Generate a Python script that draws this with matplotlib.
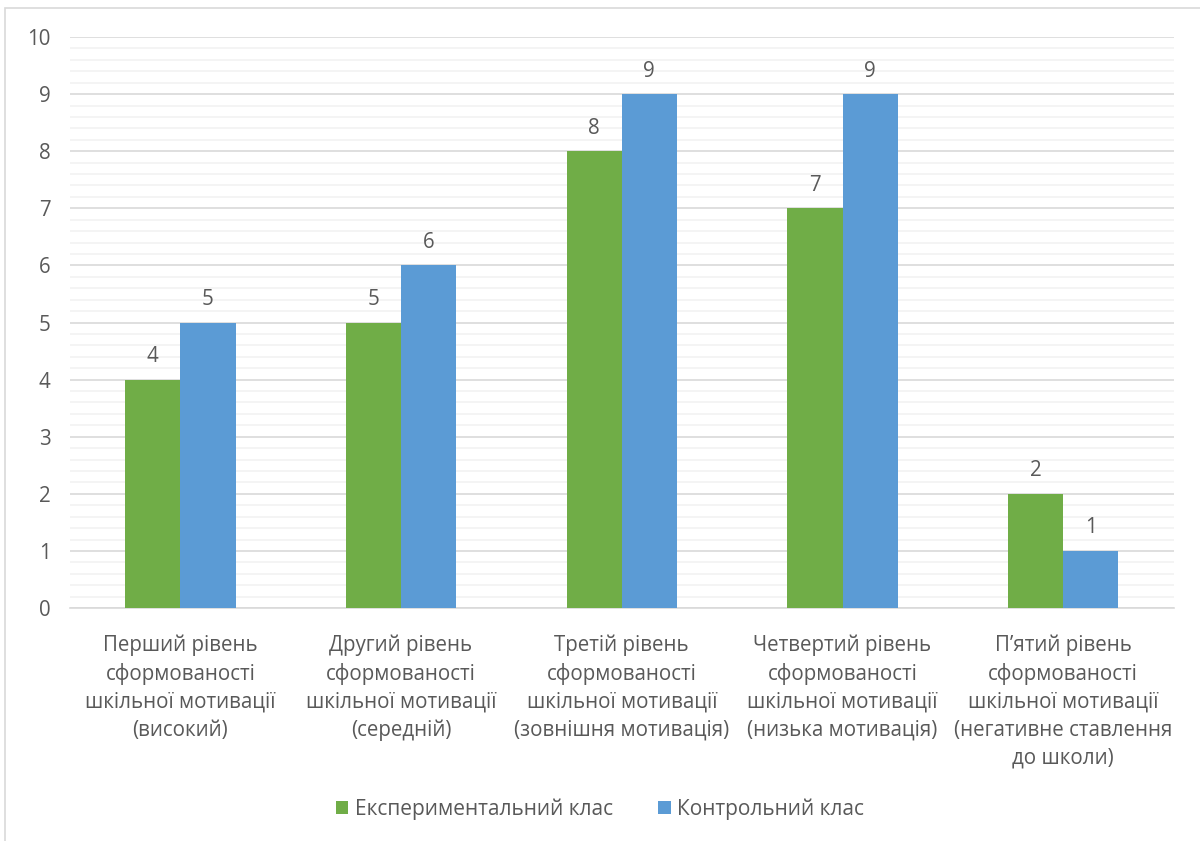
#!/usr/bin/env python3

import matplotlib.pyplot as plt
import numpy as np
from matplotlib.patches import Rectangle
from matplotlib.ticker import MultipleLocator

# Data
CATEGORIES = [
    "Перший рівень\nсформованості\nшкільної мотивації\n(високий)",
    "Другий рівень\nсформованості\nшкільної мотивації\n(середній)",
    "Третій рівень\nсформованості\nшкільної мотивації\n(зовнішня мотивація)",
    "Четвертий рівень\nсформованості\nшкільної мотивації\n(низька мотивація)",
    "П’ятий рівень\nсформованості\nшкільної мотивації\n(негативне ставлення\nдо школи)",
]
EXPERIMENTAL = [4, 5, 8, 7, 2]
CONTROL = [5, 6, 9, 9, 1]
SERIES_NAMES = ["Експериментальний клас", "Контрольний клас"]

GREEN = "#70AD47"
BLUE = "#5B9BD5"
TEXT = "#595959"
FS = 14.8

plt.rcParams["font.family"] = ["Open Sans", "DejaVu Sans"]

fig = plt.figure(figsize=(12, 8.41), dpi=100)
ax = fig.add_axes([0.0583, 0.277, 0.9197, 0.679])

x = np.arange(len(CATEGORIES))
width = 0.25
bars_e = ax.bar(x - width / 2, EXPERIMENTAL, width, color=GREEN, label=SERIES_NAMES[0], zorder=3)
bars_c = ax.bar(x + width / 2, CONTROL, width, color=BLUE, label=SERIES_NAMES[1], zorder=3)

for bars in (bars_e, bars_c):
    for bar in bars:
        h = bar.get_height()
        ax.annotate(f"{h:g}", (bar.get_x() + bar.get_width() / 2, h),
                    xytext=(0, 9), textcoords="offset points",
                    ha="center", va="bottom", fontsize=FS, color=TEXT)

ax.set_xlim(-0.5, len(CATEGORIES) - 0.5)
ax.set_ylim(0, 10)
ax.yaxis.set_major_locator(MultipleLocator(1))
ax.yaxis.set_minor_locator(MultipleLocator(0.2))
ax.grid(which="major", axis="y", color="#D9D9D9", linewidth=1.2, zorder=0)
ax.grid(which="minor", axis="y", color="#F2F2F2", linewidth=1.2, zorder=0)
ax.set_axisbelow(True)

for side in ("top", "right", "left"):
    ax.spines[side].set_visible(False)
ax.spines["bottom"].set_color("#D9D9D9")
ax.spines["bottom"].set_linewidth(1.2)

ax.set_xticks(x)
ax.set_xticklabels(CATEGORIES, fontsize=FS, color=TEXT, linespacing=1.42, va="top")
ax.tick_params(axis="x", length=0, pad=19)
ax.tick_params(axis="y", which="both", length=0, labelsize=FS, labelcolor=TEXT, pad=14)

ax.legend(loc="center", bbox_to_anchor=(0.5, 0.038), bbox_transform=fig.transFigure,
          ncol=2, frameon=False, fontsize=15, labelcolor=TEXT,
          handlelength=0.6, handleheight=0.6, handletextpad=0.3, columnspacing=2.2)

# chart area outline
fig.patches.append(Rectangle((5 / 1200, -0.01), 1.02, 1 - 8 / 841 + 0.01,
                             transform=fig.transFigure, fill=False,
                             edgecolor="#D9D9D9", linewidth=1.2))

fig.savefig("out.png", dpi=100)
